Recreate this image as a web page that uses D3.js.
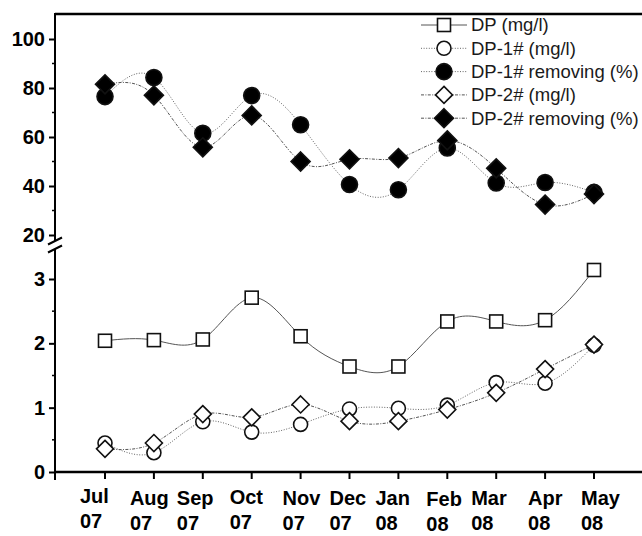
<!DOCTYPE html>
<html>
<head>
<meta charset="utf-8">
<script src="https://cdn.jsdelivr.net/npm/d3@7"></script>
<style>
  body { margin: 0; background: #fff; }
  svg { display: block; font-family: "Liberation Sans", Arial, sans-serif; }
</style>
</head>
<body>
<div id="chart"></div>
<script>
// categories (two line tick labels)
var months = ["Jul", "Aug", "Sep", "Oct", "Nov", "Dec", "Jan", "Feb", "Mar", "Apr", "May"];
var years = ["07", "07", "07", "07", "07", "07", "08", "08", "08", "08", "08"];

// lower panel series (mg/l)
var dp = [2.04, 2.05, 2.06, 2.71, 2.11, 1.64, 1.64, 2.34, 2.34, 2.36, 3.14];
var dp1 = [0.45, 0.30, 0.78, 0.62, 0.74, 0.98, 0.99, 1.04, 1.39, 1.38, 1.97];
var dp2 = [0.36, 0.45, 0.90, 0.85, 1.05, 0.79, 0.79, 0.97, 1.23, 1.60, 1.98];

// upper panel series (%)
var dp1Rem = [76.5, 84.3, 61.5, 76.9, 65.0, 40.6, 38.5, 55.5, 41.2, 41.4, 37.4];
var dp2Rem = [81.5, 77.0, 55.8, 68.8, 50.0, 50.9, 51.4, 58.6, 47.2, 32.4, 36.7];

// tick values
var topTicks = [20, 40, 60, 80, 100];
var topMinor = [30, 50, 70, 90];
var botTicks = [0, 1, 2, 3];
var botMinor = [0.5, 1.5, 2.5];

var legendNames = ["DP (mg/l)", "DP-1# (mg/l)", "DP-1# removing (%)", "DP-2# (mg/l)", "DP-2# removing (%)"];

// hand placed label nudges in the original figure
var labelDx = [-25, -24, -26, -22, -18, -20, -23, -21, -25, -17, -13];
var labelDy = [-2, 0, 0, -1, 0, 0, 0, 1, 0, 0, 0];

var svgWidth = 642, svgHeight = 536;
var axisX = 55;

var svg = d3.select("#chart").append("svg")
  .attr("width", svgWidth)
  .attr("height", svgHeight);

var x = d3.scaleLinear().domain([0, 10]).range([105, 594]);
var yTop = d3.scaleLinear().domain([20, 100]).range([235, 39]);
var yBot = d3.scaleLinear().domain([0, 3]).range([472, 279]);

// series styles
var series = [
  { name: legendNames[0], values: dp, scale: yBot, shape: "square", fill: "#fff", dash: null, color: "#555" },
  { name: legendNames[1], values: dp1, scale: yBot, shape: "circle", fill: "#fff", dash: "1,1.6", color: "#666" },
  { name: legendNames[2], values: dp1Rem, scale: yTop, shape: "circle", fill: "#000", dash: "1,1.6", color: "#666" },
  { name: legendNames[3], values: dp2, scale: yBot, shape: "diamond", fill: "#fff", dash: "3,1.4,1,1.4", color: "#555" },
  { name: legendNames[4], values: dp2Rem, scale: yTop, shape: "diamond", fill: "#000", dash: "3,1.4,1,1.4", color: "#555" }
];

function drawMarker(g, shape, fill, cx, cy) {
  if (shape === "square") {
    g.append("rect")
      .attr("x", cx - 6.5).attr("y", cy - 6.5)
      .attr("width", 13).attr("height", 13)
      .attr("fill", fill).attr("stroke", "#111").attr("stroke-width", 1.6);
  } else if (shape === "circle") {
    var r = fill === "#000" ? 8 : 7;
    g.append("circle")
      .attr("cx", cx).attr("cy", cy).attr("r", r)
      .attr("fill", fill).attr("stroke", "#111").attr("stroke-width", 1.6);
  } else {
    var h = fill === "#000" ? 9.5 : 8.5;
    g.append("path")
      .attr("d", `M${cx},${cy - h}L${cx + h},${cy}L${cx},${cy + h}L${cx - h},${cy}Z`)
      .attr("fill", fill).attr("stroke", "#111").attr("stroke-width", 1.6);
  }
}

// lines first
series.forEach(function(s) {
  var line = d3.line()
    .x(function(d, i) { return x(i); })
    .y(function(d) { return s.scale(d); })
    .curve(d3.curveNatural);
  svg.append("path")
    .datum(s.values)
    .attr("d", line)
    .attr("fill", "none")
    .attr("stroke", s.color)
    .attr("stroke-width", 1)
    .attr("stroke-dasharray", s.dash);
});

// then markers
series.forEach(function(s) {
  var g = svg.append("g");
  s.values.forEach(function(v, i) {
    drawMarker(g, s.shape, s.fill, x(i), s.scale(v));
  });
});

// frame top line
svg.append("line")
  .attr("x1", axisX).attr("x2", svgWidth)
  .attr("y1", 14).attr("y2", 14)
  .attr("stroke", "#000").attr("stroke-width", 2.5);

// upper y axis
var topAxis = d3.axisLeft(yTop).tickValues(topTicks).tickFormat(d3.format("d")).tickSize(6).tickPadding(4);
var gTop = svg.append("g").attr("transform", `translate(${axisX},0)`).call(topAxis);
gTop.select(".domain").remove();
svg.append("line").attr("x1", axisX).attr("x2", axisX).attr("y1", 13).attr("y2", 241)
  .attr("stroke", "#000").attr("stroke-width", 2);
topMinor.forEach(function(v) {
  svg.append("line").attr("x1", axisX - 3).attr("x2", axisX).attr("y1", yTop(v)).attr("y2", yTop(v))
    .attr("stroke", "#000").attr("stroke-width", 1.5);
});

// lower y axis
var botAxis = d3.axisLeft(yBot).tickValues(botTicks).tickFormat(d3.format("d")).tickSize(6).tickPadding(4);
var gBot = svg.append("g").attr("transform", `translate(${axisX},0)`).call(botAxis);
gBot.select(".domain").remove();
svg.append("line").attr("x1", axisX).attr("x2", axisX).attr("y1", 249).attr("y2", 480)
  .attr("stroke", "#000").attr("stroke-width", 2);
botMinor.forEach(function(v) {
  svg.append("line").attr("x1", axisX - 3).attr("x2", axisX).attr("y1", yBot(v)).attr("y2", yBot(v))
    .attr("stroke", "#000").attr("stroke-width", 1.5);
});

[gTop, gBot].forEach(function(g) {
  g.selectAll(".tick line").attr("stroke", "#000").attr("stroke-width", 2);
  g.selectAll(".tick text")
    .attr("fill", "#000")
    .style("font-size", "20px")
    .style("font-weight", "bold")
    .style("font-family", "'Liberation Sans', Arial, sans-serif");
});

// axis break marks
[241, 249].forEach(function(yb) {
  svg.append("line")
    .attr("x1", axisX - 7).attr("y1", yb + 3.5)
    .attr("x2", axisX + 7).attr("y2", yb - 3.5)
    .attr("stroke", "#000").attr("stroke-width", 2);
});

// x axis
svg.append("line")
  .attr("x1", axisX).attr("x2", svgWidth)
  .attr("y1", 472).attr("y2", 472)
  .attr("stroke", "#000").attr("stroke-width", 2.5);

var xg = svg.append("g");
months.forEach(function(m, i) {
  xg.append("line")
    .attr("x1", x(i)).attr("x2", x(i))
    .attr("y1", 472).attr("y2", 479)
    .attr("stroke", "#000").attr("stroke-width", 2);
  var t = xg.append("text")
    .attr("x", x(i) + labelDx[i])
    .attr("y", 505 + labelDy[i])
    .attr("text-anchor", "start")
    .style("font-size", "20px")
    .style("font-weight", "bold");
  t.append("tspan").attr("x", x(i) + labelDx[i]).text(m);
  t.append("tspan").attr("x", x(i) + labelDx[i]).attr("dy", 25).text(years[i]);
});

// legend
var legend = svg.append("g");
series.forEach(function(s, i) {
  var ly = 25 + i * 23.3;
  legend.append("line")
    .attr("x1", 421).attr("x2", 467)
    .attr("y1", ly).attr("y2", ly)
    .attr("stroke", s.color).attr("stroke-width", 1)
    .attr("stroke-dasharray", s.dash);
  drawMarker(legend, s.shape, s.fill, 444, ly);
  legend.append("text")
    .attr("x", 471)
    .attr("y", ly)
    .attr("dy", "0.35em")
    .attr("fill", "#1a1a1a")
    .style("font-size", "18.5px")
    .text(s.name);
});
</script>
</body>
</html>
